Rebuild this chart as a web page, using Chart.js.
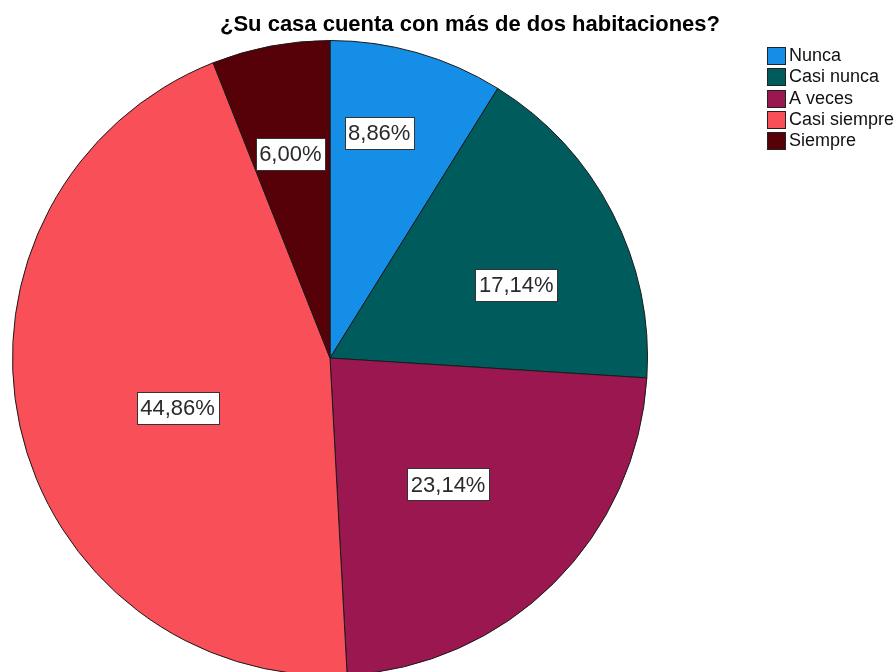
<!DOCTYPE html>
<html>
<head>
<meta charset="utf-8">
<script src="https://cdn.jsdelivr.net/npm/chart.js@4.4.1/dist/chart.umd.min.js"></script>
<style>
  html, body { margin: 0; padding: 0; background: #fff; }
  #wrap { width: 896px; height: 672px; overflow: hidden; position: relative; }
</style>
</head>
<body>
<div id="wrap">
  <canvas id="pieChart" width="896" height="680"></canvas>
</div>
<script>
const chartTitle = "¿Su casa cuenta con más de dos habitaciones?";
const categories = ["Nunca", "Casi nunca", "A veces", "Casi siempre", "Siempre"];
const percentages = [8.86, 17.14, 23.14, 44.86, 6.00];
const sliceColors = ["#148ee6", "#005c5c", "#9b1750", "#f94f59", "#560008"];

// where each percentage box sits: [fraction of radius, shift from mid-angle in degrees]
const labelPlacement = [[0.725, -3.6], [0.63, 5.9], [0.545, 1.7], [0.505, -5.7], [0.655, -0.2]];

const fmtPct = (v) => v.toFixed(2).replace(".", ",") + "%";

// Title, value boxes and legend, drawn on top of the pie
const overlayPlugin = {
  id: "overlay",
  afterDraw(chart) {
    const ctx = chart.ctx;
    const arcs = chart.getDatasetMeta(0).data;

    ctx.save();
    ctx.fillStyle = "#000";
    ctx.font = "bold 22px 'Liberation Sans', Arial, sans-serif";
    ctx.textAlign = "center";
    ctx.textBaseline = "alphabetic";
    ctx.fillText(chartTitle, 470, 31);

    // percentage boxes
    ctx.font = "22px 'Liberation Sans', Arial, sans-serif";
    ctx.textAlign = "center";
    ctx.textBaseline = "middle";
    arcs.forEach((arc, i) => {
      const p = arc.getProps(["x", "y", "startAngle", "endAngle", "outerRadius"], true);
      const [frac, shift] = labelPlacement[i];
      const mid = (p.startAngle + p.endAngle) / 2 + shift * Math.PI / 180;
      const lx = p.x + Math.cos(mid) * p.outerRadius * frac;
      const ly = p.y + Math.sin(mid) * p.outerRadius * frac;
      const text = fmtPct(percentages[i]);
      const w = Math.round(ctx.measureText(text).width + 7);
      const h = 32;
      const bx = Math.round(lx - w / 2) + 0.5;
      const by = Math.round(ly - h / 2) + 0.5;
      ctx.fillStyle = "#fff";
      ctx.fillRect(bx, by, w, h);
      ctx.strokeStyle = "#333";
      ctx.lineWidth = 1;
      ctx.strokeRect(bx, by, w, h);
      ctx.fillStyle = "#2a2a2a";
      ctx.fillText(text, lx, ly + 1);
    });

    // legend
    ctx.font = "18px 'Liberation Sans', Arial, sans-serif";
    ctx.textAlign = "left";
    ctx.textBaseline = "middle";
    categories.forEach((name, i) => {
      const y = Math.round(47 + i * 21.3);
      ctx.fillStyle = sliceColors[i];
      ctx.fillRect(767.5, y + 0.5, 18, 17);
      ctx.strokeStyle = "#222";
      ctx.strokeRect(767.5, y + 0.5, 18, 17);
      ctx.fillStyle = "#111";
      ctx.fillText(name, 789, y + 9);
    });
    ctx.restore();
  }
};

new Chart(document.getElementById("pieChart"), {
  type: "pie",
  data: {
    labels: categories,
    datasets: [{
      data: percentages,
      backgroundColor: sliceColors,
      borderColor: "#1a1a1a",
      borderWidth: 1,
    }],
  },
  options: {
    responsive: false,
    animation: false,
    layout: { padding: { left: 12, right: 248, top: 40, bottom: 4 } },
    plugins: {
      legend: { display: false },
      title: { display: false },
      tooltip: { enabled: false },
    },
  },
  plugins: [overlayPlugin],
});
</script>
</body>
</html>
